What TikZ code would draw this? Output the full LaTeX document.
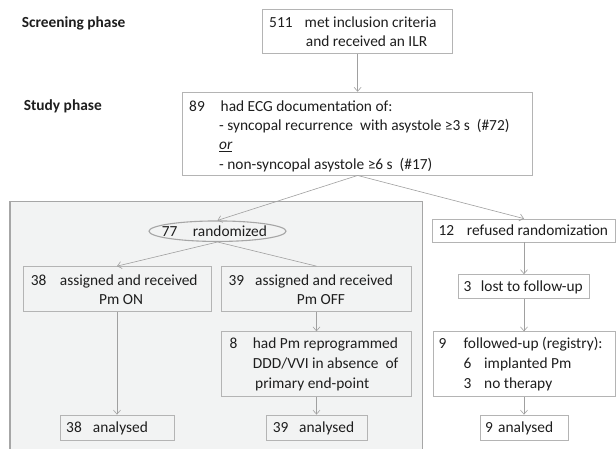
\documentclass[tikz,border=0pt]{standalone}
\usepackage{fontspec}
\setmainfont{Carlito}
\usetikzlibrary{arrows.meta,shapes.geometric}
\definecolor{txt}{HTML}{1E1E1E}
\definecolor{boxline}{HTML}{B4B4B4}
\definecolor{arr}{HTML}{A0A0A0}
\definecolor{panelfill}{HTML}{F2F3F3}
\definecolor{panelline}{HTML}{A6A6A6}
\begin{document}
\begin{tikzpicture}[x=1pt,y=-1pt,
  font=\fontsize{15.4}{19}\selectfont, text=txt,
  box/.style={draw=boxline, line width=0.7pt, rectangle, inner sep=0pt},
  wbox/.style={box, fill=white},
  tx/.style={anchor=base west, inner sep=0pt},
  txc/.style={anchor=base, inner sep=0pt},
  conn/.style={draw=arr, line width=0.6pt},
  arrow/.style={conn, -{Straight Barb[length=4pt,width=7pt]}},
]
\useasboundingbox (0,0) rectangle (616,449);
\fill[white] (0,0) rectangle (616,449);
\draw[fill=panelfill, draw=panelline, line width=1.3pt] (10,201.7) rectangle (422.4,460);

% boxes
\node[wbox, minimum width=190pt, minimum height=44pt] (b511) at (357.6,31.2) {};
\node[wbox, minimum width=350pt, minimum height=83pt] (b89) at (357.6,133.6) {};
\node[draw=panelline, line width=1.1pt, ellipse, minimum width=137pt, minimum height=20.5pt, inner sep=0pt] (rand) at (217.5,231.2) {};
\node[wbox, minimum width=183pt, minimum height=23pt] (b12) at (524,230.5) {};
\node[box, minimum width=188pt, minimum height=45pt] (b38) at (117,289) {};
\node[box, minimum width=190pt, minimum height=45pt] (b39) at (316.5,289) {};
\node[wbox, minimum width=131pt, minimum height=24pt] (lost) at (524,286.5) {};
\node[box, minimum width=190pt, minimum height=65pt] (b8) at (316.5,364.2) {};
\node[wbox, minimum width=182pt, minimum height=65pt] (b9) at (524,364.2) {};
\node[box, minimum width=114pt, minimum height=25.7pt] (a38) at (117,427.8) {};
\node[box, minimum width=101pt, minimum height=25.7pt] (a39) at (316.5,427.8) {};
\node[wbox, minimum width=88pt, minimum height=25.7pt] (a9) at (524,427.8) {};

% texts
\node[tx] (ls) at (21.6,27.7) {\bfseries Screening phase};
\node[tx] (lst) at (23.6,110.3) {\bfseries Study phase};

\node[tx] (t511n) at (269,27.7) {511};
\node[tx] (t511a) at (304.5,27.7) {met inclusion criteria};
\node[tx] (t511b) at (305.7,46.7) {and received an ILR};

\node[tx] (t89n) at (189,111.5) {89};
\node[tx] (t89a) at (220.5,111.5) {had ECG documentation of:};
\node[tx] (t89b) at (219,130.8) {- syncopal recurrence\ \ with asystole ≥3 s\ \ (\#72)};
\node[tx] (t89c) at (219,150) {\underline{\itshape or}};
\node[tx] (t89d) at (219,169.3) {- non-syncopal asystole ≥6 s\ \ (\#17)};

\node[tx] (t77n) at (161.7,236.2) {77};
\node[tx] (t77a) at (192.7,236.2) {randomized};

\node[tx] (t12n) at (438.3,235.5) {12};
\node[tx] (t12a) at (466.7,235.5) {refused randomization};

\node[tx] (t38n) at (30.6,285.7) {38};
\node[tx] (t38a) at (59.7,285.7) {assigned and received};
\node[txc] (t38b) at (121,304) {Pm ON};

\node[tx] (t39n) at (228.3,285.7) {39};
\node[tx] (t39a) at (255,285.7) {assigned and received};
\node[txc] (t39b) at (321,304) {Pm OFF};

\node[tx] (t3n) at (463.3,291.5) {3};
\node[tx] (t3a) at (480.7,291.5) {lost to follow-up};

\node[tx] (t8n) at (229.5,348.3) {8};
\node[tx] (t8a) at (252.7,348.3) {had Pm reprogrammed};
\node[tx] (t8b) at (252.7,368.3) {DDD/VVI in absence\ \ of};
\node[tx] (t8c) at (255,388) {primary end-point};

\node[tx] (t9n) at (438.3,348.3) {9};
\node[tx] (t9a) at (463.3,348.3) {followed-up (registry):};
\node[tx] (t9b) at (463.5,368.3) {6};
\node[tx] (t9c) at (484,368.3) {implanted Pm};
\node[tx] (t9d) at (463.5,388) {3};
\node[tx] (t9e) at (484,388) {no therapy};

\node[tx] (ta38n) at (66,432.8) {38};
\node[tx] (ta38a) at (92.7,432.8) {analysed};
\node[tx] (ta39n) at (272.7,432.8) {39};
\node[tx] (ta39a) at (299,432.8) {analysed};
\node[tx] (ta9n) at (485,432.8) {9};
\node[tx] (ta9a) at (498,432.8) {analysed};

% connectors
\draw[arrow] (b511) -- (b89);
\draw[arrow] (b89.south) -- (rand.north);
\draw[arrow] (b89.south) -- (b12.north);
\draw[arrow] (rand.south) -- (b38.north);
\draw[conn] (rand.south) -- (b39.north);
\draw[arrow] (b39) -- (b8);
\draw[arrow] (b8) -- (a39);
\draw[arrow] (b38) -- (a38);
\draw[arrow] (b12) -- (lost);
\draw[arrow] (lost) -- (b9);
\draw[arrow] (b9) -- (a9);
\end{tikzpicture}
\end{document}
